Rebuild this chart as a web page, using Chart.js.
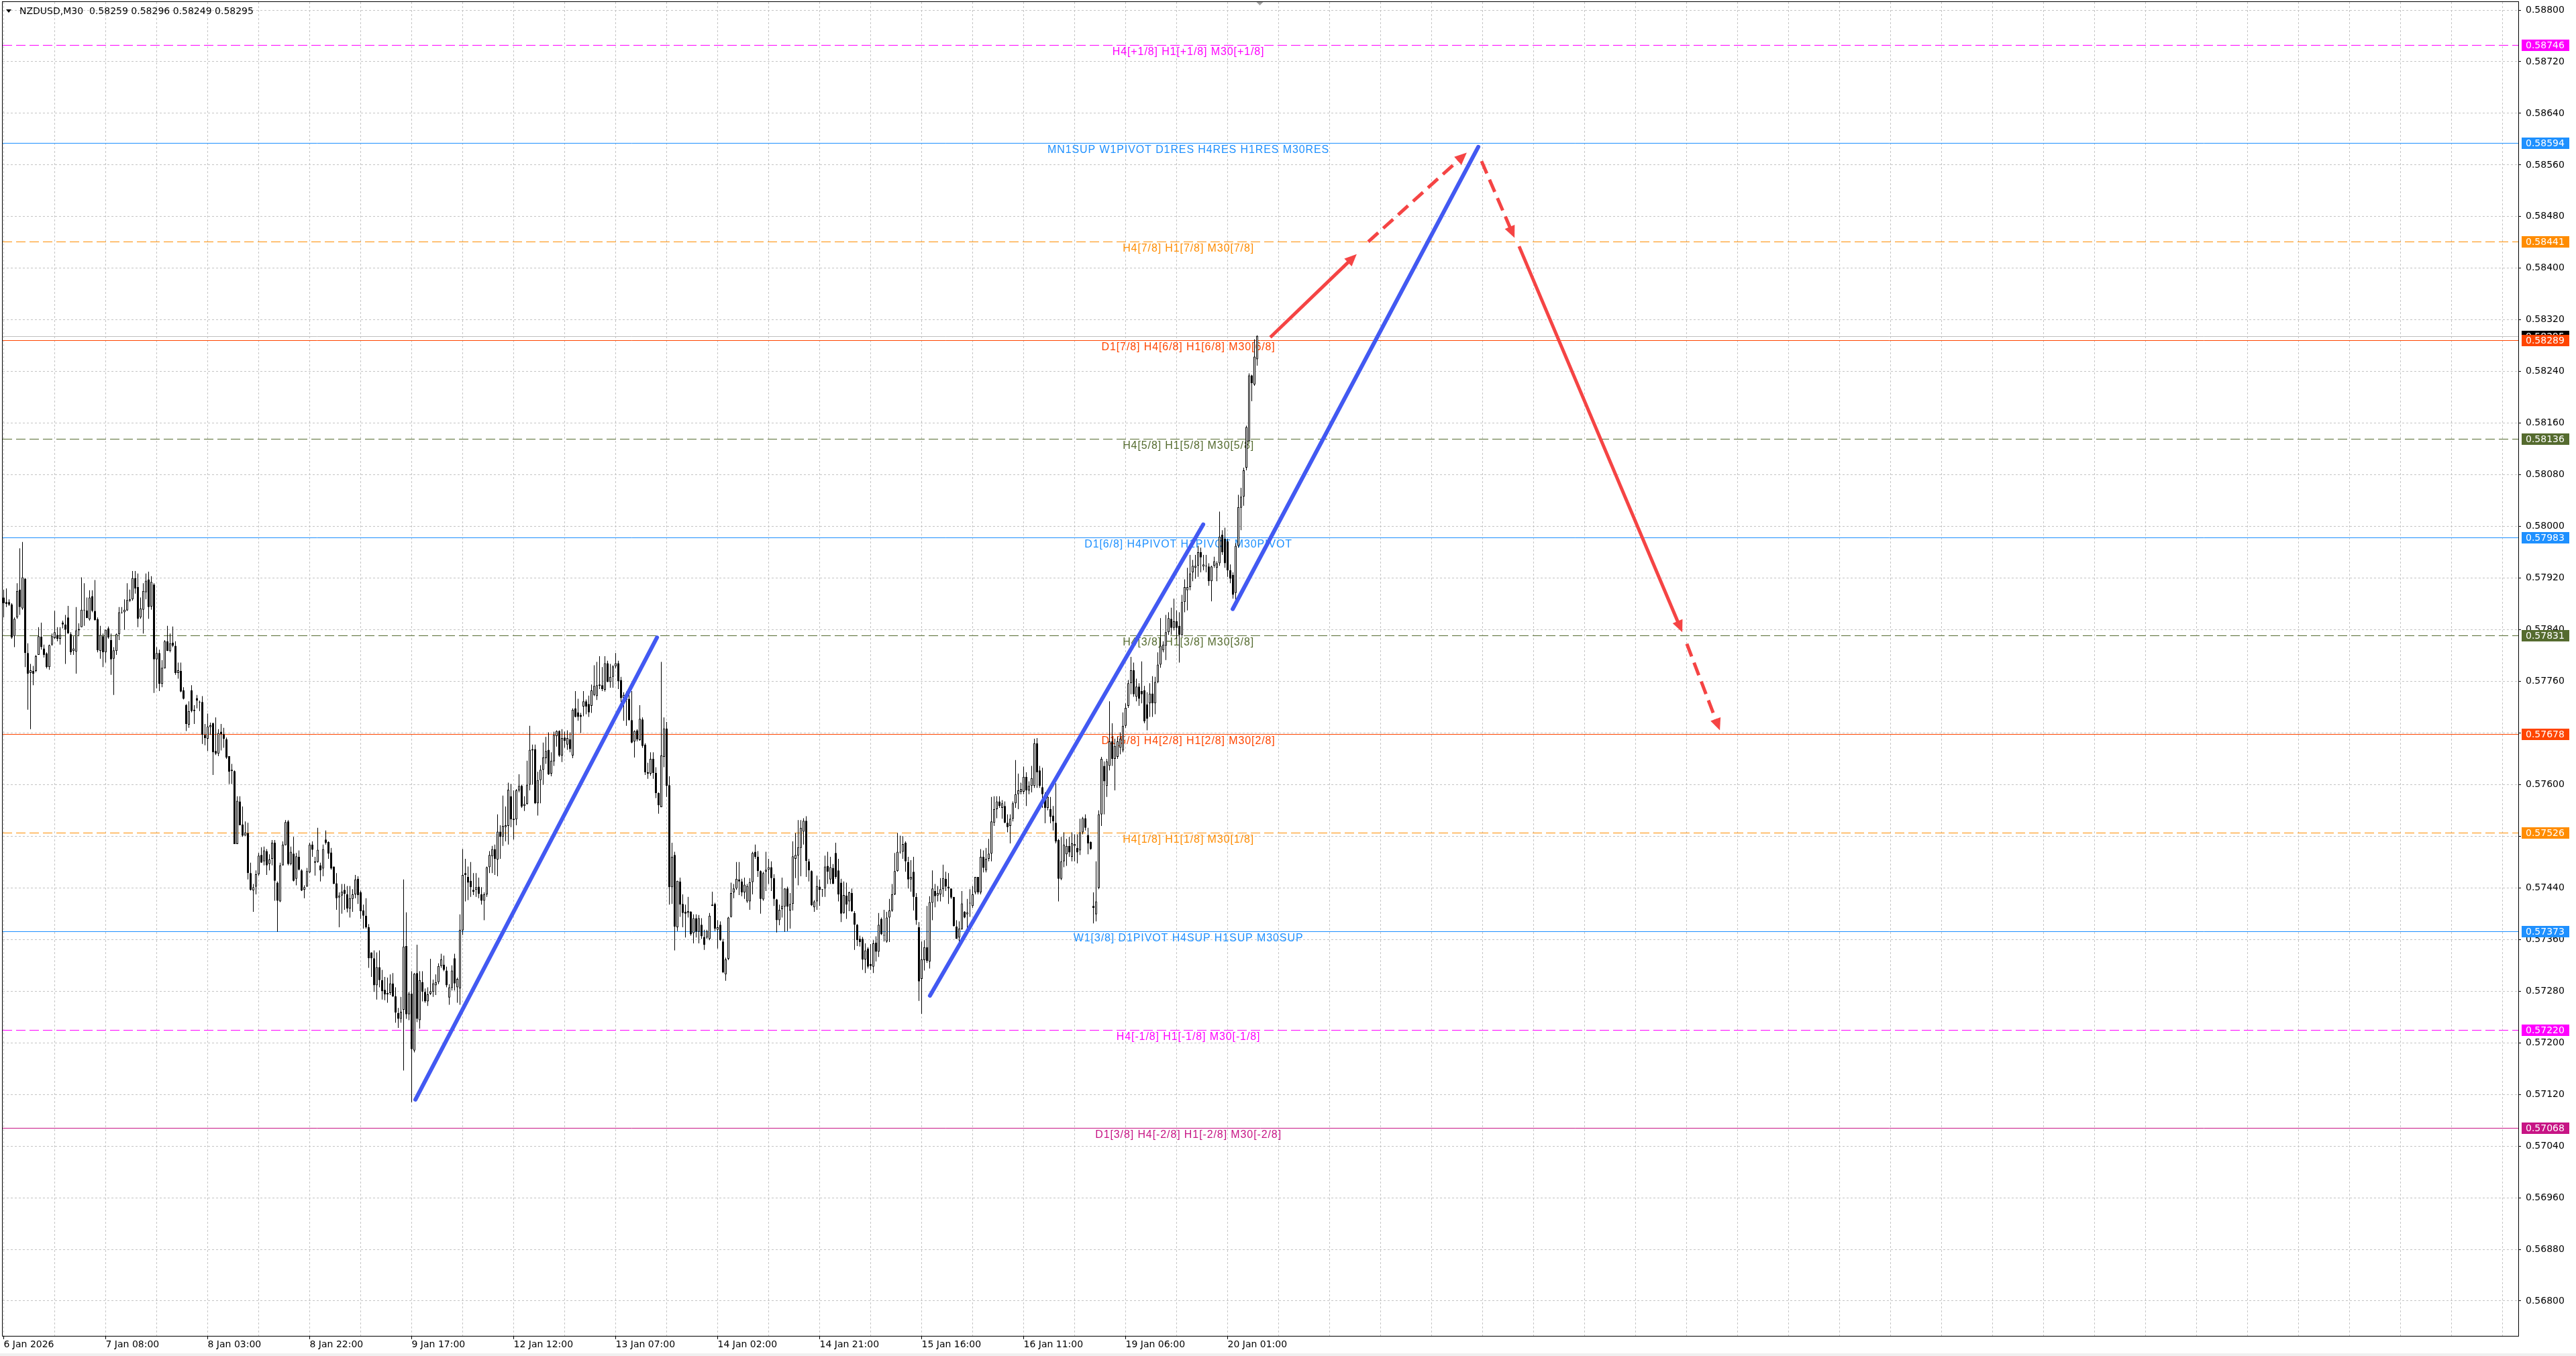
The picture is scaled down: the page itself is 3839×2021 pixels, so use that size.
<!DOCTYPE html>
<html><head><meta charset="utf-8">
<script src="https://cdn.jsdelivr.net/npm/chart.js@4.4.1/dist/chart.umd.min.js"></script>
<style>html,body{margin:0;padding:0;background:#fff;overflow:hidden}canvas{display:block}</style>
</head><body>
<canvas id="c" width="3839" height="2021"></canvas>
<script>
// ---------------- DATA (prices in points: price x 100000) ----------------
const symbolTitle = 'NZDUSD,M30';
const opens = [
57890,57883,57883,57879,57830,57859,57902,57873,57919,57804,
57773,57776,57776,57801,57829,57811,57803,57782,57817,57827,
57832,57826,57851,57848,57859,57833,57807,57806,57839,57844,
57870,57870,57856,57892,57869,57856,57807,57830,57805,57842,
57824,57795,57807,57833,57866,57867,57870,57887,57887,57920,
57906,57859,57871,57898,57918,57876,57910,57794,57804,57756,
57780,57822,57807,57820,57815,57773,57776,57746,57723,57693,
57746,57716,57734,57728,57728,57677,57671,57689,57695,57652,
57648,57682,57678,57670,57644,57621,57621,57508,57574,57538,
57521,57525,57463,57436,57442,57461,57491,57481,57497,57477,
57485,57510,57448,57419,57475,57506,57543,57477,57493,57454,
57488,57467,57437,57442,57464,57507,57481,57480,57475,57470,
57515,57511,57495,57473,57447,57425,57428,57437,57430,57408,
57423,57430,57454,57433,57405,57397,57379,57340,57331,57289,
57317,57297,57282,57275,57277,57292,57272,57246,57237,57251,
57350,57244,57276,57188,57308,57235,57294,57279,57264,57276,
57279,57289,57294,57319,57321,57312,57270,57285,57331,57286,
57284,57374,57463,57457,57451,57437,57437,57442,57430,57420,
57430,57472,57489,57500,57484,57527,57519,57534,57536,57582,
57547,57546,57591,57598,57567,57570,57600,57653,57655,57571,
57607,57623,57641,57654,57617,57636,57675,57683,57645,57673,
57662,57670,57645,57718,57712,57708,57721,57729,57725,57722,
57739,57737,57753,57754,57747,57788,57759,57767,57783,57788,
57762,57734,57738,57733,57700,57667,57684,57669,57701,57662,
57617,57617,57640,57618,57587,57565,57643,57687,57599,57441,
57491,57379,57450,57415,57403,57401,57403,57370,57393,57372,
57383,57364,57363,57361,57414,57415,57375,57383,57357,57306,
57330,57395,57433,57439,57453,57450,57433,57419,57419,57449,
57496,57488,57466,57422,57465,57468,57472,57455,57422,57390,
57407,57411,57439,57405,57415,57485,57490,57502,57527,57544,
57481,57466,57410,57419,57442,57438,57439,57474,57453,57471,
57494,57467,57448,57401,57428,57419,57432,57401,57383,57361,
57361,57329,57346,57322,57318,57355,57341,57392,57366,57357,
57394,57405,57430,57466,57496,57496,57510,57480,57453,57465,
57426,57379,57299,57328,57348,57326,57417,57435,57428,57430,
57438,57454,57442,57439,57426,57380,57363,57376,57403,57399,
57416,57412,57433,57457,57433,57488,57467,57485,57493,57541,
57562,57574,57564,57567,57541,57536,57547,57571,57585,57589,
57589,57612,57591,57598,57598,57664,57622,57596,57585,57564,
57562,57552,57541,57514,57454,57481,57492,57505,57488,57505,
57502,57498,57526,57548,57522,57511,57412,57399,57440,57554,
57629,57598,57629,57667,57640,57643,57657,57653,57691,57722,
57757,57777,57736,57752,57745,57746,57724,57726,57741,57726,
57759,57786,57808,57815,57836,57857,57843,57853,57846,57832,
57883,57901,57906,57929,57936,57939,57960,57938,57939,57938,
57915,57939,57936,57943,57987,57981,57977,57932,57925,57897,
57970,58029,58046,58091,58132,58234,58220,58259];
const highs = [
57902,57904,57887,57881,57859,57912,57966,57976,57920,57819,
57787,57784,57801,57844,57851,57817,57805,57817,57834,57869,
57844,57844,57854,57863,57877,57836,57830,57875,57850,57921,
57912,57890,57901,57901,57917,57859,57846,57834,57840,57845,
57834,57813,57834,57875,57875,57887,57912,57902,57931,57931,
57927,57890,57912,57927,57930,57923,57912,57813,57809,57793,
57824,57846,57834,57845,57822,57789,57789,57751,57725,57729,
57754,57723,57739,57730,57737,57694,57710,57696,57696,57704,
57686,57694,57688,57673,57644,57632,57622,57582,57582,57566,
57543,57541,57479,57446,57467,57494,57503,57504,57500,57492,
57514,57514,57450,57479,57512,57545,57545,57504,57519,57494,
57498,57469,57444,57471,57510,57512,57488,57533,57479,57507,
57529,57512,57502,57473,57463,57433,57446,57446,57443,57443,
57438,57460,57458,57436,57414,57424,57384,57340,57343,57340,
57343,57313,57302,57301,57306,57308,57286,57254,57271,57453,
57402,57279,57311,57308,57352,57311,57311,57284,57286,57330,
57298,57306,57323,57338,57335,57318,57291,57320,57338,57301,
57399,57500,57485,57473,57480,57463,57463,57456,57441,57433,
57473,57497,57505,57507,57554,57537,57583,57566,57603,57601,
57591,57593,57616,57600,57582,57637,57691,57662,57662,57620,
57630,57665,57674,57681,57650,57682,57684,57684,57686,57682,
57684,57681,57718,57745,57733,57711,57745,57732,57738,57755,
57785,57790,57799,57782,57799,57792,57787,57785,57804,57792,
57767,57743,57744,57745,57745,57684,57686,57723,57704,57664,
57634,57650,57650,57627,57588,57790,57704,57697,57613,57510,
57496,57451,57456,57430,57414,57426,57404,57399,57399,57398,
57393,57375,57375,57401,57434,57417,57390,57388,57361,57332,
57395,57448,57446,57480,57480,57454,57456,57446,57455,57496,
57507,57497,57467,57465,57496,57485,57481,57461,57423,57414,
57456,57439,57442,57432,57512,57525,57545,57545,57548,57551,
57485,57467,57421,57459,57453,57438,57490,57496,57488,57477,
57510,57485,57454,57450,57448,57434,57439,57404,57384,57366,
57364,57354,57348,57353,57359,57365,57401,57394,57406,57403,
57423,57446,57494,57525,57521,57520,57512,57488,57483,57488,
57432,57387,57357,57359,57412,57427,57467,57446,57443,57455,
57476,57465,57463,57439,57426,57390,57388,57435,57404,57423,
57438,57443,57457,57457,57500,57498,57502,57516,57581,57582,
57582,57582,57576,57574,57554,57554,57574,57638,57617,57603,
57628,57619,57605,57629,57671,57672,57629,57626,57588,57584,
57581,57567,57602,57516,57519,57526,57516,57519,57526,57523,
57523,57547,57550,57554,57533,57512,57433,57481,57560,57643,
57636,57640,57729,57695,57671,57674,57681,57712,57726,57762,
57798,57789,57764,57757,57791,57753,57743,57757,57768,57767,
57805,57858,57822,57863,57867,57874,57888,57870,57867,57894,
57918,57936,57956,57948,57956,57970,57967,57956,57956,57943,
57939,57953,57946,58023,57994,57998,57981,57941,57929,57974,
58049,58060,58091,58156,58237,58235,58290,58296];
const lows = [
57859,57875,57877,57826,57813,57857,57863,57871,57782,57716,
57686,57754,57774,57801,57809,57797,57780,57778,57815,57826,
57822,57817,57842,57787,57834,57801,57801,57772,57830,57844,
57846,57858,57854,57867,57854,57805,57795,57782,57789,57826,
57770,57739,57801,57824,57865,57840,57869,57883,57885,57896,
57844,57857,57834,57887,57857,57871,57742,57749,57745,57751,
57780,57807,57805,57813,57770,57764,57743,57732,57683,57688,
57712,57694,57718,57714,57663,57661,57652,57677,57615,57646,
57644,57653,57657,57640,57601,57601,57508,57508,57537,57519,
57521,57453,57436,57403,57430,57459,57479,57475,57460,57467,
57475,57420,57372,57418,57475,57506,57475,57475,57450,57444,
57467,57435,57424,57442,57463,57488,57459,57479,57450,57458,
57507,57485,57468,57446,57406,57379,57400,57406,57402,57394,
57403,57424,57415,57392,57377,57377,57316,57302,57279,57267,
57286,57267,57266,57262,57274,57271,57231,57223,57231,57157,
57237,57235,57108,57185,57232,57222,57264,57262,57257,57274,
57271,57274,57291,57316,57311,57286,57259,57281,57281,57262,
57259,57367,57419,57421,57426,57429,57426,57424,57414,57390,
57426,57463,57463,57460,57458,57485,57505,57512,57507,57534,
57515,57537,57588,57564,57559,57569,57591,57600,57570,57552,
57571,57600,57632,57615,57613,57629,57659,57643,57635,57657,
57654,57650,57641,57704,57699,57680,57706,57709,57705,57711,
57737,57731,57748,57745,57744,57759,57750,57750,57780,57748,
57728,57699,57691,57699,57664,57642,57667,57668,57657,57615,
57609,57614,57609,57579,57555,57565,57627,57581,57414,57415,
57343,57373,57395,57379,57363,57394,57366,57354,57363,57354,
57361,57344,57361,57359,57412,57373,57346,57358,57308,57296,
57328,57394,57424,57437,57429,57427,57423,57417,57406,57430,
57485,57457,57400,57420,57435,57446,57435,57412,57371,57382,
57394,57372,57373,57377,57405,57455,57444,57458,57507,57457,
57450,57412,57403,57406,57412,57426,57426,57446,57446,57446,
57454,57419,57387,57400,57392,57404,57403,57344,57350,57349,
57313,57308,57315,57313,57308,57326,57333,57367,57357,57355,
57356,57403,57429,57465,57493,57485,57465,57439,57434,57405,
57383,57265,57245,57312,57324,57315,57390,57410,57419,57419,
57426,57435,57415,57423,57380,57361,57357,57375,57393,57378,
57395,57409,57430,57430,57430,57464,57464,57481,57481,57536,
57548,57564,57547,57540,57526,57509,57543,57564,57562,57585,
57585,57567,57585,57588,57595,57595,57595,57564,57540,57560,
57540,57529,57509,57419,57452,57472,57474,57488,57481,57481,
57478,57491,57523,57529,57492,57499,57385,57388,57438,57536,
57554,57581,57622,57629,57591,57640,57647,57650,57688,57719,
57740,57736,57729,57722,57726,57695,57684,57705,57705,57709,
57757,57781,57805,57793,57832,57832,57839,57826,57789,57829,
57867,57870,57901,57915,57919,57922,57929,57932,57929,57908,
57884,57936,57915,57939,57956,57936,57922,57912,57888,57884,
57967,57994,58032,58087,58131,58194,58218,58249];
const closes = [
57881,57880,57879,57828,57857,57900,57875,57921,57804,57772,
57777,57772,57799,57830,57813,57801,57782,57816,57830,57836,
57826,57832,57848,57840,57834,57805,57811,57839,57841,57871,
57871,57858,57890,57869,57855,57808,57832,57805,57840,57828,
57794,57808,57833,57867,57867,57871,57886,57885,57920,57904,
57857,57873,57900,57916,57875,57914,57794,57804,57756,57781,
57822,57807,57819,57815,57773,57777,57744,57733,57694,57714,
57714,57714,57730,57727,57677,57672,57690,57692,57650,57648,
57680,57678,57671,57642,57620,57623,57508,57575,57537,57521,
57526,57463,57437,57441,57461,57490,57479,57498,57475,57484,
57510,57451,57420,57475,57507,57542,57477,57496,57451,57489,
57468,57436,57441,57466,57507,57499,57479,57499,57467,57500,
57510,57493,57470,57446,57424,57428,57434,57431,57408,57424,
57430,57453,57429,57404,57397,57379,57331,57331,57289,57317,
57297,57280,57275,57277,57292,57272,57247,57237,57248,57349,
57244,57276,57190,57307,57237,57297,57279,57264,57275,57280,
57292,57294,57319,57329,57313,57289,57286,57312,57292,57299,
57375,57460,57460,57448,57441,57434,57441,57431,57420,57430,
57472,57491,57500,57485,57527,57519,57536,57537,57592,57546,
57545,57591,57598,57566,57570,57600,57654,57655,57571,57607,
57623,57642,57652,57616,57637,57677,57683,57645,57672,57668,
57672,57655,57716,57705,57705,57705,57729,57721,57712,57746,
57753,57754,57755,57748,57788,57759,57767,57783,57788,57760,
57734,57739,57731,57700,57665,57683,57670,57702,57660,57619,
57619,57640,57618,57587,57568,57645,57687,57598,57441,57488,
57380,57451,57414,57401,57400,57404,57368,57393,57372,57393,
57365,57352,57373,57397,57412,57377,57379,57359,57309,57329,
57394,57432,57439,57454,57450,57433,57445,57443,57449,57494,
57488,57466,57423,57463,57468,57472,57455,57423,57390,57406,
57412,57439,57411,57415,57489,57491,57503,57533,57544,57482,
57467,57413,57419,57443,57437,57437,57473,57465,57472,57446,
57457,57430,57400,57429,57414,57433,57404,57383,57359,57356,
57329,57343,57318,57319,57354,57341,57383,57368,57367,57394,
57405,57430,57466,57496,57495,57508,57481,57453,57457,57426,
57390,57295,57329,57348,57327,57418,57439,57427,57432,57438,
57455,57442,57439,57425,57381,57361,57377,57416,57394,57402,
57417,57430,57457,57433,57488,57471,57485,57493,57543,57562,
57574,57567,57571,57541,57534,57547,57571,57585,57591,57593,
57612,57591,57598,57610,57664,57619,57598,57585,57564,57581,
57550,57543,57512,57454,57481,57507,57505,57495,57509,57508,
57495,57526,57548,57533,57509,57500,57409,57419,57554,57640,
57605,57636,57667,57640,57660,57667,57671,57691,57719,57757,
57777,57740,57752,57733,57740,57698,57702,57741,57726,57759,
57786,57815,57817,57836,57858,57843,57853,57843,57832,57883,
57906,57906,57927,57939,57939,57960,57952,57941,57938,57915,
57938,57946,57943,57984,57960,57943,57932,57919,57894,57970,
58030,58046,58087,58154,58234,58222,58263,58295];

// x-axis labels (bar index -> time text)
const xTickBars = [0,38,76,114,152,190,228,266,304,342,380,418,456];
const xTickLabels = ['6 Jan 2026','7 Jan 08:00','8 Jan 03:00','8 Jan 22:00','9 Jan 17:00','12 Jan 12:00','13 Jan 07:00','14 Jan 02:00','14 Jan 21:00','15 Jan 16:00','16 Jan 11:00','19 Jan 06:00','20 Jan 01:00'];
// y-axis tick labels
const yTickLabels = ['0.58800','0.58720','0.58640','0.58560','0.58480','0.58400','0.58320','0.58240','0.58160','0.58080','0.58000','0.57920','0.57840','0.57760','0.57680','0.57600','0.57520','0.57440','0.57360','0.57280','0.57200','0.57120','0.57040','0.56960','0.56880','0.56800'];

// Murrey / pivot levels
const levelPrices = [0.58746,0.58594,0.58441,0.58289,0.58136,0.57983,0.57831,0.57678,0.57526,0.57373,0.57220,0.57068];
const levelTexts = ['H4[+1/8] H1[+1/8] M30[+1/8]','MN1SUP W1PIVOT D1RES H4RES H1RES M30RES','H4[7/8] H1[7/8] M30[7/8]','D1[7/8] H4[6/8] H1[6/8] M30[6/8]','H4[5/8] H1[5/8] M30[5/8]','D1[6/8] H4PIVOT H1PIVOT M30PIVOT','H4[3/8] H1[3/8] M30[3/8]','D1[5/8] H4[2/8] H1[2/8] M30[2/8]','H4[1/8] H1[1/8] M30[1/8]','W1[3/8] D1PIVOT H4SUP H1SUP M30SUP','H4[-1/8] H1[-1/8] M30[-1/8]','D1[3/8] H4[-2/8] H1[-2/8] M30[-2/8]'];

// hand-drawn trend lines: [barFrom, priceFrom, barTo, priceTo]
const blueTrend = [[153.4,0.57112,243.4,0.57828],[345.1,0.57273,446.9,0.58003],[457.9,0.57872,549.4,0.58588]];
const redPath = [[471.9,0.58293,504.1,0.58422],[508.4,0.58441,545.1,0.58579],[550.6,0.58566,562.9,0.58447],[564.6,0.58434,625.4,0.57836],[627.1,0.57818,639.4,0.57684]];

// ---------------- STYLES ----------------
const levelColors = ['#FF00FF','#1E90FF','#FF8C00','#FF4500','#556B2F','#1E90FF','#556B2F','#FF4500','#FF8C00','#1E90FF','#FF00FF','#C71585'];
const levelDashed = [true,false,true,false,true,false,true,false,true,false,true,false];
const redDashed = [false,true,true,false,true];
const LABEL_BAR = 441.4;
const GRID_STEP = 19;
const BLUE = '#4259F2', RED = '#F54444';

// ---------------- BUILD ----------------
const P = v => v / 1e5;
const n = closes.length;
const bodies = [], wicks = [], bodyFill = [];
for (let i = 0; i < n; i++) {
  bodies.push({x: i, y: [P(opens[i]), P(closes[i])]});
  wicks.push({x: i, y: [P(lows[i]), P(highs[i])]});
  bodyFill.push(closes[i] > opens[i] ? '#ffffff' : '#000000');
}
const yTickValues = yTickLabels.map(Number);
const X_MIN = -0.375, X_MAX = 936.875;
const Y_MIN = 0.567459, Y_MAX = 0.588125;
const gridBars = [];
for (let v = 0; v <= X_MAX; v += GRID_STEP) gridBars.push(v);

function arrowLine(ctx, x1, y1, x2, y2, dashed) {
  const ang = Math.atan2(y2 - y1, x2 - x1), L = 18, W = 8;
  const c = Math.cos(ang), s = Math.sin(ang);
  ctx.setLineDash(dashed ? [20, 10] : []);
  ctx.beginPath(); ctx.moveTo(x1, y1); ctx.lineTo(x2 - c * L * 0.7, y2 - s * L * 0.7); ctx.stroke();
  ctx.setLineDash([]);
  ctx.beginPath();
  ctx.moveTo(x2, y2);
  ctx.lineTo(x2 - c * L + s * W, y2 - s * L - c * W);
  ctx.lineTo(x2 - c * L - s * W, y2 - s * L + c * W);
  ctx.closePath(); ctx.fill();
}

const overlay = {
  id: 'overlay',
  beforeDatasetsDraw(chart) {
    const {ctx, chartArea: a, scales: {x, y}} = chart;
    ctx.save();
    ctx.beginPath(); ctx.rect(a.left, a.top, a.right - a.left, a.bottom - a.top); ctx.clip();
    ctx.lineWidth = 1;
    const by = Math.round(y.getPixelForValue(P(closes[n - 1]))) + 0.5;
    ctx.strokeStyle = '#c0c0c0'; ctx.setLineDash([]);
    ctx.beginPath(); ctx.moveTo(a.left, by); ctx.lineTo(a.right, by); ctx.stroke();
    levelPrices.forEach((p, i) => {
      const py = Math.round(y.getPixelForValue(p)) + 0.5;
      ctx.strokeStyle = levelColors[i];
      ctx.setLineDash(levelDashed[i] ? [14, 6] : []);
      ctx.beginPath(); ctx.moveTo(a.left, py); ctx.lineTo(a.right, py); ctx.stroke();
    });
    ctx.setLineDash([]);
    ctx.font = '16px "Liberation Sans", Arial, sans-serif';
    try { ctx.letterSpacing = '0.9px'; } catch (e) {}
    ctx.textAlign = 'center'; ctx.textBaseline = 'top';
    const lx = x.getPixelForValue(LABEL_BAR);
    levelPrices.forEach((p, i) => {
      ctx.fillStyle = levelColors[i];
      ctx.fillText(levelTexts[i], lx, Math.round(y.getPixelForValue(p)) + 3);
    });
    ctx.restore();
  },
  afterDatasetsDraw(chart) {
    const {ctx, chartArea: a, scales: {x, y}} = chart;
    ctx.save();
    ctx.beginPath(); ctx.rect(a.left, a.top, a.right - a.left, a.bottom - a.top); ctx.clip();
    ctx.lineCap = 'round';
    ctx.strokeStyle = BLUE; ctx.lineWidth = 6;
    blueTrend.forEach(t => {
      ctx.beginPath();
      ctx.moveTo(x.getPixelForValue(t[0]), y.getPixelForValue(t[1]));
      ctx.lineTo(x.getPixelForValue(t[2]), y.getPixelForValue(t[3]));
      ctx.stroke();
    });
    ctx.strokeStyle = RED; ctx.fillStyle = RED; ctx.lineWidth = 5; ctx.lineCap = 'butt';
    redPath.forEach((t, i) => {
      arrowLine(ctx, x.getPixelForValue(t[0]), y.getPixelForValue(t[1]), x.getPixelForValue(t[2]), y.getPixelForValue(t[3]), redDashed[i]);
    });
    ctx.restore();
  },
  afterDraw(chart) {
    const {ctx, chartArea: a, scales: {x, y}} = chart;
    ctx.save();
    // frame
    ctx.strokeStyle = '#000'; ctx.lineWidth = 1; ctx.setLineDash([]);
    ctx.strokeRect(a.left - 0.5, a.top - 0.5, a.right - a.left + 1, a.bottom - a.top + 1);
    // title
    ctx.fillStyle = '#000';
    ctx.beginPath(); ctx.moveTo(9, 14); ctx.lineTo(17, 14); ctx.lineTo(13, 19); ctx.closePath(); ctx.fill();
    ctx.font = '14px "DejaVu Sans", sans-serif';
    ctx.textAlign = 'left'; ctx.textBaseline = 'middle';
    const last = n - 1;
    ctx.fillText(symbolTitle + '  ' + [opens[last], highs[last], lows[last], closes[last]].map(v => P(v).toFixed(5)).join(' '), 29, 17);
    // shift marker
    const mx = x.getPixelForValue(n);
    ctx.fillStyle = '#a0a0a0';
    ctx.beginPath(); ctx.moveTo(mx - 5, a.top); ctx.lineTo(mx + 5, a.top); ctx.lineTo(mx, a.top + 5); ctx.closePath(); ctx.fill();
    // price boxes on the right axis
    const bx = a.right + 5, bw = 71, bh = 17;
    function box(p, color) {
      const py = Math.round(y.getPixelForValue(p));
      ctx.fillStyle = color; ctx.fillRect(bx, py - 8, bw, bh);
      ctx.fillStyle = '#fff'; ctx.fillText(p.toFixed(5), a.right + 11, py + 1);
    }
    box(P(closes[last]), '#000000');
    levelPrices.forEach((p, i) => box(p, levelColors[i]));
    // window edge
    ctx.fillStyle = '#f0f0f0';
    ctx.fillRect(0, chart.height - 4, chart.width, 4);
    ctx.restore();
  }
};

new Chart(document.getElementById('c'), {
  type: 'bar',
  data: {
    datasets: [
      {label: 'body', data: bodies, backgroundColor: bodyFill, borderColor: '#000', borderWidth: 1,
       borderSkipped: false, barThickness: 3, minBarLength: 1, grouped: false, inflateAmount: 0, order: 0},
      {label: 'wick', data: wicks, backgroundColor: '#000', borderWidth: 0,
       barThickness: 1, grouped: false, inflateAmount: 0, order: 1}
    ]
  },
  options: {
    responsive: false, animation: false, devicePixelRatio: 1,
    layout: {padding: {left: 4, top: 3, right: 0, bottom: 0}},
    plugins: {legend: {display: false}, tooltip: {enabled: false}, title: {display: false}},
    events: [],
    scales: {
      x: {
        type: 'linear', min: X_MIN, max: X_MAX, offset: false,
        afterBuildTicks: s => { s.ticks = gridBars.map(v => ({value: v})); },
        afterFit: s => { s.height = 30; s.paddingLeft = 0; s.paddingRight = 0; },
        ticks: {
          autoSkip: false, maxRotation: 0, minRotation: 0, align: 'start', padding: 0,
          color: '#000', font: {family: 'DejaVu Sans', size: 14},
          callback: v => { const k = xTickBars.indexOf(v); return k >= 0 ? xTickLabels[k] : ''; }
        },
        grid: {color: '#c4c4c4', lineWidth: 1, offset: false, drawTicks: true, tickLength: 5,
               tickColor: c => (c.tick && c.tick.label) ? '#000' : 'rgba(0,0,0,0)', tickWidth: 1},
        border: {display: false, dash: [3, 3]}
      },
      y: {
        type: 'linear', position: 'right', min: Y_MIN, max: Y_MAX, beginAtZero: false,
        afterBuildTicks: s => { s.ticks = yTickValues.map(v => ({value: v})); },
        afterFit: s => { s.width = 86; s.paddingTop = 0; s.paddingBottom = 0; },
        ticks: {
          autoSkip: false, padding: 7, color: '#000', font: {family: 'DejaVu Sans', size: 14},
          callback: v => { const k = yTickValues.indexOf(v); return k >= 0 ? yTickLabels[k] : v.toFixed(5); }
        },
        grid: {color: '#c4c4c4', lineWidth: 1, drawTicks: true, tickLength: 4, tickColor: '#000'},
        border: {display: false, dash: [3, 3]}
      }
    }
  },
  plugins: [overlay]
});
</script>
</body></html>
